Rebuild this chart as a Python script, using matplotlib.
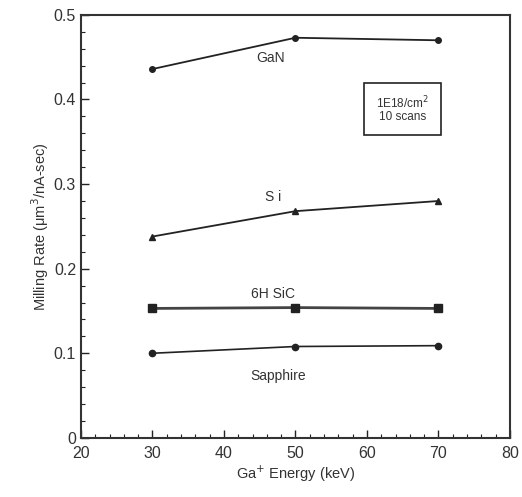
import matplotlib
matplotlib.use("Agg")
import matplotlib.pyplot as plt
from matplotlib.ticker import MultipleLocator

plt.rcParams['font.family'] = ['Liberation Sans', 'DejaVu Sans']

energy = [30, 50, 70]
gan = [0.436, 0.473, 0.470]
si = [0.238, 0.268, 0.280]
sic = [0.153, 0.154, 0.153]
sapphire = [0.100, 0.108, 0.109]

fig = plt.figure(figsize=(5.22, 4.97), dpi=100)
ax = fig.add_axes([0.155, 0.119, 0.822, 0.851])
c = '#222222'
ax.plot(energy, gan, color=c, lw=1.3, marker='o', ms=4)
ax.plot(energy, si, color=c, lw=1.3, marker='^', ms=5)
ax.plot(energy, sic, color='#444444', lw=2.0, marker='s', ms=5.5, mfc=c, mec=c)
ax.plot(energy, sapphire, color=c, lw=1.2, marker='o', ms=4.5)

tc = '#333333'
ax.text(46.5, 0.449, 'GaN', ha='center', va='center', fontsize=10, color=tc)
ax.text(46.9, 0.285, 'S i', ha='center', va='center', fontsize=10, color=tc)
ax.text(46.8, 0.170, '6H SiC', ha='center', va='center', fontsize=10, color=tc)
ax.text(47.6, 0.073, 'Sapphire', ha='center', va='center', fontsize=10, color=tc)
ax.text(65, 0.389, '1E18/cm$^2$\n10 scans', ha='center', va='center', fontsize=8.5,
        color=tc, linespacing=1.0,
        bbox=dict(boxstyle='square,pad=1.0', fc='white', ec='#222222', lw=1.2))

ax.set_xlim(20, 80)
ax.set_ylim(0, 0.5)
ax.xaxis.set_major_locator(MultipleLocator(10))
ax.xaxis.set_minor_locator(MultipleLocator(2))
ax.yaxis.set_major_locator(MultipleLocator(0.1))
ax.yaxis.set_minor_locator(MultipleLocator(0.02))
ax.set_yticks([0, 0.1, 0.2, 0.3, 0.4, 0.5])
ax.set_yticklabels(['0', '0.1', '0.2', '0.3', '0.4', '0.5'])
ax.tick_params(which='both', direction='in', colors='#222222', labelcolor=tc, labelsize=11.5)
ax.tick_params(which='major', length=6, width=1)
ax.tick_params(which='minor', length=3, width=0.8)
ax.tick_params(axis='x', pad=6)
for s in ax.spines.values():
    s.set_linewidth(1.5)
    s.set_color('#333333')
ax.set_xlabel('Ga$^{+}$ Energy (keV)', fontsize=10.5, color=tc, labelpad=2)
ax.set_ylabel('Milling Rate (\u03bcm$^3$/nA-sec)', fontsize=10.5, color=tc, labelpad=2)

fig.savefig('out.png', dpi=100)
